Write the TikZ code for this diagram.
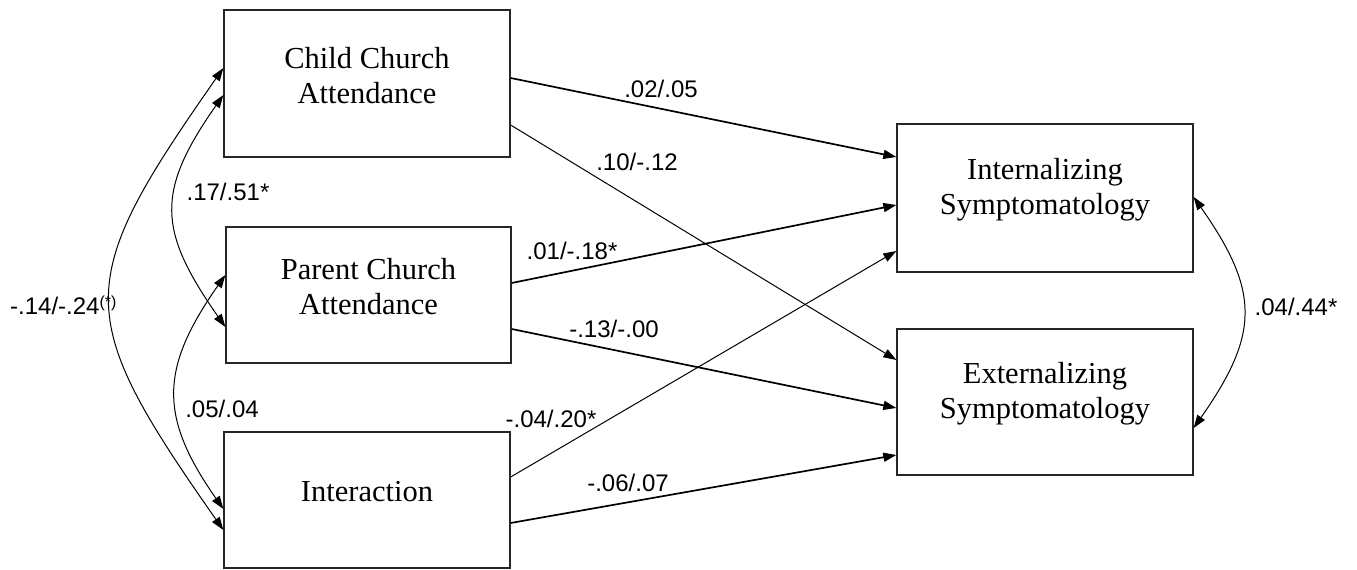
\documentclass[tikz,border=0pt]{standalone}
\usepackage{fontspec}
\setmainfont{Liberation Serif}
\newfontfamily\coeffont{Liberation Sans}
\usetikzlibrary{arrows.meta}

\begin{document}
\begin{tikzpicture}[x=1pt,y=1pt,
   box/.style={draw=black!85,line width=1.3pt,minimum width=286pt,minimum height=136pt},
   boxtext/.style={align=center,font=\fontsize{30.5}{35}\selectfont},
   coef/.style={font=\coeffont\fontsize{24}{28}\selectfont,inner sep=0pt},
   tip/.style={-{Triangle[length=13pt,width=9pt]}},
   strong/.style={tip,line width=1.7pt},
   weak/.style={tip,line width=1pt},
   covar/.style={{Triangle[length=13pt,width=9pt]}-{Triangle[length=13pt,width=9pt]},line width=1pt}]
   \useasboundingbox (0,0) rectangle (1357,570);
   % boxes
   \node[box,minimum height=147pt] (child) at (367,486.5) {};
   \node[box,minimum width=285pt] (parent) at (368.5,275) {};
   \node[box] (inter) at (367,70) {};
   \node[box,minimum width=296pt,minimum height=148pt] (intern) at (1045,372) {};
   \node[box,minimum width=296pt,minimum height=146pt] (extern) at (1045,168) {};
   \node[boxtext] at ([yshift=8pt]child.center) {Child Church\\Attendance};
   \node[boxtext] at ([yshift=8pt]parent.center) {Parent Church\\Attendance};
   \node[boxtext] at ([yshift=8pt]inter.center) {Interaction};
   \node[boxtext] at ([yshift=8pt]intern.center) {Internalizing\\Symptomatology};
   \node[boxtext] at ([yshift=8pt]extern.center) {Externalizing\\Symptomatology};
   % paths
   \draw[strong] ([yshift=5.5pt]child.east) -- ([yshift=41pt]intern.west);
   \draw[weak] ([yshift=-41.5pt]child.east) -- ([yshift=42pt]extern.west);
   \draw[strong] ([yshift=12pt]parent.east) -- ([yshift=-7pt]intern.west);
   \draw[strong] ([yshift=-34pt]parent.east) -- ([yshift=-6pt]extern.west);
   \draw[weak] ([yshift=23pt]inter.east) -- ([yshift=-53pt]intern.west);
   \draw[strong] ([yshift=-23pt]inter.east) -- ([yshift=-53pt]extern.west);
   % covariances
   \draw[covar] ([yshift=15.5pt]child.west) to[out=235,in=125,looseness=1.46] ([yshift=-30pt]inter.west);
   \draw[covar] ([yshift=-11.5pt]child.west) to[out=235,in=125,looseness=1.3] ([yshift=-32pt]parent.west);
   \draw[covar] ([yshift=20pt]parent.west) to[out=235,in=125,looseness=1.24] ([yshift=-9pt]inter.west);
   \draw[covar] ([yshift=1pt]intern.east) to[out=-55,in=55,looseness=1.28] ([yshift=-26pt]extern.east);
   % coefficients
   \node[coef] (c1) at (661,481) {.02/.05};
   \node[coef] (c2) at (637,408) {.10/-.12};
   \node[coef] (c3) at (572,319) {.01/-.18*};
   \node[coef] (c4) at (614,241) {-.13/-.00};
   \node[coef] (c5) at (551,151) {-.04/.20*};
   \node[coef] (c6) at (628,87) {-.06/.07};
   \node[coef] (c7) at (228,378) {.17/.51*};
   \node[coef] (c8) at (222,161) {.05/.04};
   \node[coef,anchor=base west] (c9) at (10,255) {-.14/-.24{\fontsize{16}{16}\selectfont\raisebox{7pt}{(*)}}};
   \node[coef] (c10) at (1296,263) {.04/.44*};
\end{tikzpicture}
\end{document}
